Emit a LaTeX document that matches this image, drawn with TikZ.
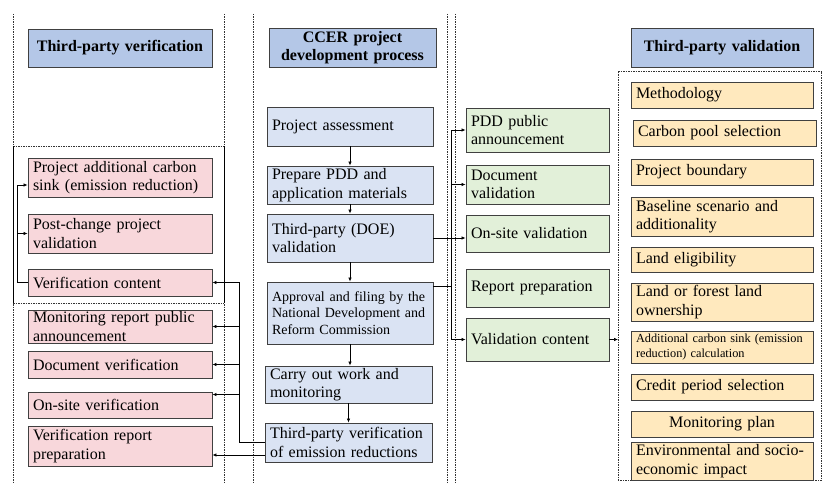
\documentclass[tikz,border=0pt]{standalone}
\usepackage{fontspec}
\setmainfont{Liberation Serif}
\usepackage{tikz}
\usepackage{xcolor}
\usetikzlibrary{arrows.meta}
\definecolor{headblue}{RGB}{180,199,231}
\definecolor{procblue}{RGB}{218,227,243}
\definecolor{pinkfill}{RGB}{248,215,219}
\definecolor{greenfill}{RGB}{226,240,217}
\definecolor{yellowfill}{RGB}{255,233,190}

\begin{document}
\begin{tikzpicture}[x=1pt, y=-1pt, >={Latex[length=4pt,width=3.5pt]}, line width=0.7pt,
	box/.style={draw=black!75, line width=0.9pt, inner xsep=5pt, inner ysep=1pt, align=left, font=\fontsize{16}{18.4}\selectfont},
	head/.style={box, fill=headblue, align=center, font=\fontsize{16}{18.4}\selectfont\bfseries},
	pinkbox/.style={box, fill=pinkfill, text width=174pt},
	procbox/.style={box, fill=procblue, text width=156pt},
	greenbox/.style={box, fill=greenfill, text width=133pt},
	yellowbox/.style={box, fill=yellowfill, text width=172pt},
	sep/.style={line width=0.6pt, black!80, dash pattern=on 1.5pt off 1pt}]
		\useasboundingbox (0,0) rectangle (823,484);
		\draw [sep] (13,14) -- (13,484) (224,14) -- (224,484) (253,14) -- (253,484) (447,14) -- (447,484) (455,14) -- (455,484);
		\draw [sep] (13,146) -- (224,146) (13,303) -- (224,303);
		\draw [line width=0.6pt] (13,146) -- (13,303) (224,146) -- (224,303);
		\coordinate (vf) at (618,71);
		\draw [sep] (vf) -- (821.5,71) -- (821.5,480) -- (618,480) -- cycle;

		\node [head, text width=174pt, minimum height=38pt] (hver) at (120,48) {Third-party verification};
		\node [head, text width=157pt, minimum height=39pt] (hccer) at (352.5,47.5) {CCER project\\development process};
		\node [head, text width=172pt, minimum height=39pt] (hval) at (722,47.5) {Third-party validation};

		\node [pinkbox, minimum height=39pt] (addc) at (120,177.5) {Project additional carbon\\sink (emission reduction)};
		\node [pinkbox, minimum height=39pt] (post) at (120,233.5) {Post-change project\\validation};
		\node [pinkbox, minimum height=27pt] (vcont) at (120,282.5) {Verification content};
		\node [pinkbox, minimum height=33pt, inner ysep=0pt] (monrep) at (120,326.5) {Monitoring report public\\announcement};
		\node [pinkbox, minimum height=27pt] (docver) at (120,364.5) {Document verification};
		\node [pinkbox, minimum height=26pt] (onver) at (120,405) {On-site verification};
		\node [pinkbox, minimum height=40pt] (vrep) at (120,446) {Verification report\\preparation};

		\node [procbox, minimum height=39pt] (assess) at (350,126.5) {Project assessment};
		\node [procbox, minimum height=38pt] (prep) at (350,185) {Prepare PDD and\\application materials};
		\node [procbox, minimum height=48pt] (doe) at (350,238) {Third-party (DOE)\\validation};
		\node [procbox, minimum height=62pt, font=\fontsize{14}{16.5}\selectfont] (appr) at (350,313) {Approval and filing by the\\National Development and\\Reform Commission};
		\node [procbox, text width=157pt, minimum height=37pt] (carry) at (348.5,384.5) {Carry out work and\\monitoring};
		\node [procbox, text width=157pt, minimum height=39pt] (tpver) at (348.5,442.5) {Third-party verification\\of emission reductions};

		\node [greenbox, minimum height=44pt] (pdd) at (537.5,130) {PDD public\\announcement};
		\node [greenbox, minimum height=39pt] (docval) at (537.5,184.5) {Document\\validation};
		\node [greenbox, minimum height=37pt] (onval) at (537.5,233.5) {On-site validation};
		\node [greenbox, minimum height=38pt] (report) at (537.5,288) {Report preparation};
		\node [greenbox, minimum height=43pt] (valcont) at (537.5,339.5) {Validation content};

		\node [yellowbox, minimum height=26pt] (method) at (722,95) {Methodology};
		\node [yellowbox, text width=173pt, minimum height=26pt] (pool) at (724.5,133) {Carbon pool selection};
		\node [yellowbox, minimum height=26pt] (bound) at (722,172) {Project boundary};
		\node [yellowbox, minimum height=39pt] (base) at (722,216.5) {Baseline scenario and\\additionality};
		\node [yellowbox, minimum height=25pt] (landel) at (722,259.5) {Land eligibility};
		\node [yellowbox, minimum height=38pt] (owner) at (722,302) {Land or forest land\\ownership};
		\node [yellowbox, minimum height=32pt, font=\fontsize{12.3}{14.5}\selectfont] (calc) at (722,347) {Additional carbon sink (emission\\reduction) calculation};
		\node [yellowbox, minimum height=26pt] (credit) at (722,387) {Credit period selection};
		\node [yellowbox, minimum height=26pt, align=center] (monplan) at (722,424) {Monitoring plan};
		\node [yellowbox, minimum height=38pt] (envir) at (722,461) {Environmental and socio-\\economic impact};

		\draw [->] (assess) -- (prep);
		\draw [->] (prep) -- (doe);
		\draw [->] (doe) -- (appr);
		\draw [->] (appr.south) -- (appr.south |- carry.north);
		\draw [->] (carry) -- (tpver);

		\coordinate (rt) at (451,0);
		\coordinate (aprout) at ([yshift=-5pt]appr.north east);
		\draw [->] (doe.east) -- (doe.east -| onval.west);
		\draw [->] (aprout) -- (aprout -| rt) |- (pdd.west);
		\draw [->] (aprout -| rt) |- (docval.west);
		\draw [->] (aprout -| rt) |- (valcont.west);
		\draw [->] (valcont.east) -- (valcont.east -| vf);

		\coordinate (lt) at (239,0);
		\coordinate (onin) at ([yshift=-3pt]onver.north east);
		\coordinate (tpout) at ([yshift=-12.5pt]tpver.west);
		\draw [->] (tpver.west) -| (lt |- vcont.east) -- (vcont.east);
		\draw [->] (lt |- monrep.east) -- (monrep.east);
		\draw [->] (lt |- docver.east) -- (docver.east);
		\draw [->] (lt |- onin) -- (onin);
		\draw [->] (tpout) -- (tpout -| vrep.east);

		\coordinate (lf) at (17,0);
		\coordinate (addin) at ([yshift=-7.5pt]addc.west);
		\draw [->] (vcont.west) -| (lf |- addin) -- (addin);
		\draw [->] (lf |- post.west) -- (post.west);
\end{tikzpicture}
\end{document}
